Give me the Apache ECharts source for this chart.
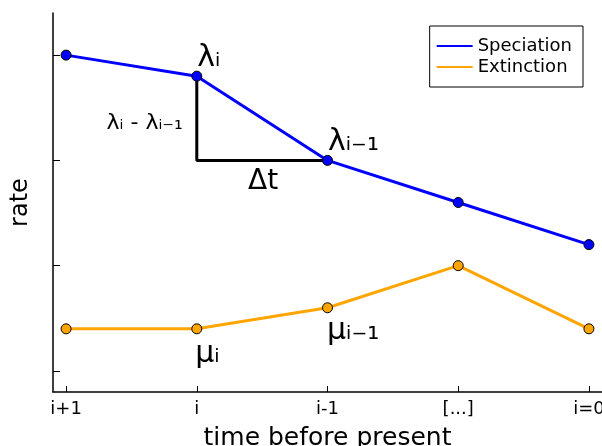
<!DOCTYPE html>
<html>
<head>
<meta charset="utf-8">
<script src="https://cdn.jsdelivr.net/npm/echarts@6/dist/echarts.min.js"></script>
<style>
  html, body { margin: 0; padding: 0; background: #fff; }
  #main { width: 602px; height: 446px; }
</style>
</head>
<body>
<div id="main"></div>
<script>
// time steps (0 = i+1 ... 4 = i=0)
var steps = [0, 1, 2, 3, 4]
var stepLabels = ['i+1', 'i', 'i-1', '[...]', 'i=0']
var yTicks = [0, 1, 2, 3]
var speciation = [3.0, 2.8, 2.0, 1.6, 1.2]
var extinction = [0.4, 0.4, 0.6, 1.0, 0.4]

var font = 'DejaVu Sans'
var chart = echarts.init(document.getElementById('main'))

function pairs (ys) {
    return steps.map(function (x, k) { return [x, ys[k]] })
}

// slope triangle under lambda_i -> lambda_{i-1}
var triangle = [
    [steps[1], speciation[1]],
    [steps[1], speciation[2]],
    [steps[2], speciation[2]]
]

var bigLabel = { show: true, fontFamily: font, fontSize: 30, color: '#000', align: 'left', verticalAlign: 'middle', position: 'right' }

var specData = pairs(speciation)
specData[1] = { value: specData[1], label: Object.assign({}, bigLabel, { formatter: 'λᵢ', offset: [-10, -18] }) }
specData[2] = { value: specData[2], label: Object.assign({}, bigLabel, { formatter: 'λᵢ₋₁', offset: [-10, -18] }) }

var extData = pairs(extinction)
extData[1] = { value: extData[1], label: Object.assign({}, bigLabel, { formatter: 'μᵢ', offset: [-12, 25] }) }
extData[2] = { value: extData[2], label: Object.assign({}, bigLabel, { formatter: 'μᵢ₋₁', offset: [-11, 23] }) }

var option = {
    animation: false,
    textStyle: { fontFamily: font },
    grid: { left: 53, right: 0, top: 13, bottom: 54, outerBoundsMode: 'none' },
    legend: {
        right: 19,
        top: 26,
        orient: 'vertical',
        selectedMode: false,
        borderColor: '#000',
        borderWidth: 1,
        padding: [11, 11, 11, 7],
        itemGap: 3,
        itemWidth: 36,
        itemHeight: 2,
        icon: 'rect',
        itemStyle: { borderWidth: 0 },
        textStyle: { fontFamily: font, fontSize: 18, color: '#000' },
        data: ['Speciation', 'Extinction']
    },
    xAxis: {
        type: 'value',
        min: -0.1,
        max: 4.1,
        name: 'time before present',
        nameLocation: 'middle',
        nameGap: 34,
        nameTextStyle: { fontFamily: font, fontSize: 25, color: '#000' },
        axisLine: { onZero: false, lineStyle: { color: '#000', width: 1.5 } },
        axisTick: { inside: true, length: 6, customValues: steps, lineStyle: { color: '#000' } },
        axisLabel: {
            customValues: steps,
            margin: 8,
            fontFamily: font,
            fontSize: 18,
            color: '#000',
            formatter: function (v) { return stepLabels[Math.round(v)] }
        },
        splitLine: { show: false }
    },
    yAxis: {
        type: 'value',
        min: -0.2,
        max: 3.4,
        name: 'rate',
        nameLocation: 'middle',
        nameRotate: 90,
        nameGap: 20,
        nameTextStyle: { fontFamily: font, fontSize: 24, color: '#000' },
        axisLine: { show: true, onZero: false, lineStyle: { color: '#000', width: 1.5 } },
        axisTick: { show: true, inside: true, length: 7, customValues: yTicks, lineStyle: { color: '#000' } },
        axisLabel: { show: false },
        splitLine: { show: false }
    },
    series: [
        {
            name: 'triangle',
            type: 'line',
            data: triangle,
            symbol: 'none',
            silent: true,
            z: 1,
            lineStyle: { color: '#000', width: 3 },
            markPoint: {
                symbolSize: 0,
                silent: true,
                label: { show: true, color: '#000', fontFamily: font },
                data: [
                    {
                        coord: [steps[1], (speciation[1] + speciation[2]) / 2],
                        label: { formatter: 'λᵢ - λᵢ₋₁', fontSize: 22, align: 'right', verticalAlign: 'middle', offset: [-14, 5] }
                    },
                    {
                        coord: [(steps[1] + steps[2]) / 2, speciation[2]],
                        label: { formatter: 'Δt', fontSize: 28, align: 'center', verticalAlign: 'middle', offset: [1, 21] }
                    }
                ]
            }
        },
        {
            name: 'Speciation',
            type: 'line',
            data: specData,
            z: 3,
            color: '#0000ff',
            symbol: 'circle',
            symbolSize: 10,
            lineStyle: { color: '#0000ff', width: 3 },
            itemStyle: { color: '#0000ff', borderColor: '#000', borderWidth: 1 }
        },
        {
            name: 'Extinction',
            type: 'line',
            data: extData,
            z: 3,
            color: '#ffa500',
            symbol: 'circle',
            symbolSize: 10,
            lineStyle: { color: '#ffa500', width: 3 },
            itemStyle: { color: '#ffa500', borderColor: '#000', borderWidth: 1 }
        }
    ]
}
chart.setOption(option)
</script>
</body>
</html>
